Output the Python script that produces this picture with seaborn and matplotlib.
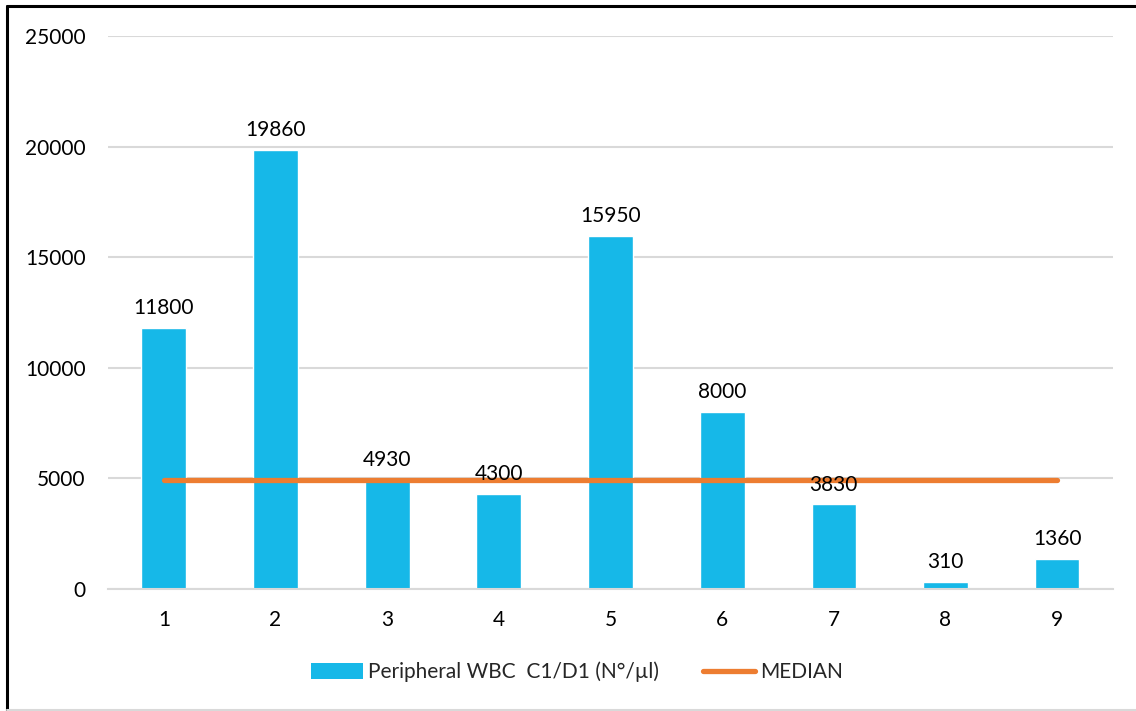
import numpy as np
import pandas as pd
import matplotlib
matplotlib.use("Agg")
import matplotlib.pyplot as plt
from matplotlib.lines import Line2D
from matplotlib.patches import Patch
import seaborn as sns

# Peripheral WBC counts per case (N°/µl)
cases = ["1", "2", "3", "4", "5", "6", "7", "8", "9"]
wbc_values = [11800, 19860, 4930, 4300, 15950, 8000, 3830, 310, 1360]
median_value = float(np.median(wbc_values))
median_series = [median_value] * len(cases)
y_ticks = [0, 5000, 10000, 15000, 20000, 25000]

bar_label = "Peripheral WBC  C1/D1 (N°/µl)"
line_label = "MEDIAN"
bar_color = "#16B8E8"
line_color = "#ED7D31"
grid_color = "#D9D9D9"
fs = 15

sns.set_theme(style="white")
plt.rcParams["font.family"] = ["Lato", "DejaVu Sans"]

df = pd.DataFrame({"case": cases, "wbc": wbc_values})

fig = plt.figure(figsize=(11.36, 7.11), dpi=100)
ax = fig.add_axes([108 / 1136, 1 - 589 / 711, (1113 - 108) / 1136, (589 - 36) / 711])

sns.barplot(data=df, x="case", y="wbc", color=bar_color, width=0.4,
            saturation=1, ax=ax, zorder=2)

# horizontal median reference across all cases
ax.plot(range(len(cases)), median_series, color=line_color, lw=3.8,
        solid_capstyle="round", zorder=3)

# value labels above bars
for i, v in enumerate(wbc_values):
    ax.annotate(f"{v}", (i, v), xytext=(0, 7), textcoords="offset points",
                ha="center", va="bottom", fontsize=fs, color="#000000", zorder=4)

ax.set_ylim(0, 25000)
ax.set_xlim(-0.5, len(cases) - 0.5)
ax.set_yticks(y_ticks)
ax.set_yticklabels([str(t) for t in y_ticks])
ax.yaxis.grid(True, color=grid_color, lw=1.5, zorder=0)
ax.set_axisbelow(True)
ax.set_xlabel("")
ax.set_ylabel("")

for side in ["top", "right", "left"]:
    ax.spines[side].set_visible(False)
ax.spines["bottom"].set_color(grid_color)
ax.spines["bottom"].set_linewidth(1.5)

ax.tick_params(axis="y", length=0, pad=16, labelsize=fs, labelcolor="#000000")
ax.tick_params(axis="x", which="major", length=0, pad=15, labelsize=fs, labelcolor="#000000")
ax.set_xticks(np.arange(-0.5, len(cases), 1.0), minor=True)
ax.tick_params(axis="x", which="minor", length=5, width=1.5, color=grid_color, direction="out")

handles = [Patch(facecolor=bar_color, edgecolor="none"),
           Line2D([0], [0], color=line_color, lw=3.8, solid_capstyle="round")]
fig.legend(handles, [bar_label, line_label], loc="center", bbox_to_anchor=(0.508, 1 - 672 / 711),
           ncol=2, frameon=False, fontsize=fs, handlelength=2.5, handleheight=0.75,
           handletextpad=0.25, columnspacing=2.1)

# outer frame: black top and left edges, light bottom edge
fig.add_artist(Line2D([7 / 1136, 7 / 1136], [0, 1 - 6 / 711], transform=fig.transFigure,
                      color="black", lw=2.2))
fig.add_artist(Line2D([7 / 1136, 1], [1 - 6 / 711, 1 - 6 / 711], transform=fig.transFigure,
                      color="black", lw=2.2))
fig.add_artist(Line2D([7 / 1136, 1], [1.5 / 711, 1.5 / 711], transform=fig.transFigure,
                      color=grid_color, lw=1.5))

fig.savefig("out.png", dpi=100)
